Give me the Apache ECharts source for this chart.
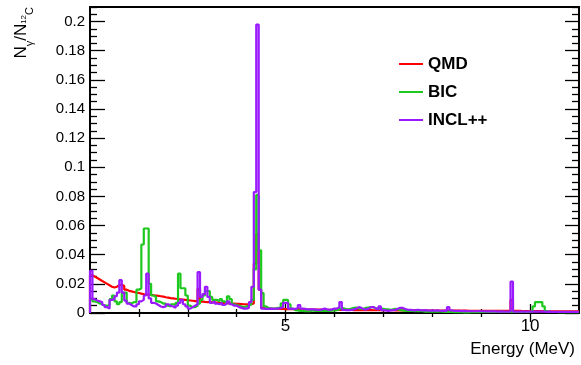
<!DOCTYPE html>
<html><head><meta charset="utf-8">
<script src="https://cdn.jsdelivr.net/npm/echarts@6/dist/echarts.min.js"></script>
<style>html,body{margin:0;padding:0;background:#fff}#c{width:581px;height:365px}</style>
</head><body><div id="c"></div>
<script>
// Histogram binning (energy, MeV)
const binStart = 1.0;
const binWidth = 0.05;
const seriesNames = ['QMD', 'BIC', 'INCL++'];

const qmd = [
0.026,0.025,0.024,0.023,0.022,0.021,0.020,0.019,0.018,0.0175,
0.018,0.019,0.0195,0.0185,0.016,0.0152,0.0148,0.0144,0.014,0.0137,
0.0133,0.013,0.0128,0.0126,0.0124,0.0122,0.012,0.0118,0.0115,0.0112,
0.0108,0.0105,0.0102,0.01,0.0098,0.0096,0.0094,0.0092,0.009,0.0088,
0.0086,0.0084,0.0082,0.008,0.0165,0.0078,0.0076,0.0075,0.0074,0.0073,
0.0072,0.0071,0.007,0.0069,0.0068,0.0067,0.0066,0.0065,0.0064,0.0063,
0.0062,0.0061,0.006,0.0059,0.0058,0.006,0.0065,0.034,0.054,0.016,
0.0035,0.0031,0.003,0.003,0.0029,0.0029,0.0028,0.0028,0.0028,0.0027,
0.0027,0.0027,0.0026,0.0026,0.0026,0.0025,0.0025,0.0025,0.0024,0.0024,
0.0024,0.0024,0.0023,0.0023,0.0023,0.0023,0.0022,0.0022,0.0022,0.0022,
0.0022,0.0022,0.0021,0.0021,0.0021,0.0021,0.0021,0.002,0.002,0.002,
0.002,0.002,0.002,0.002,0.002,0.0019,0.0019,0.0019,0.0019,0.0019,
0.0019,0.0019,0.0019,0.0019,0.0018,0.0018,0.0018,0.0018,0.0018,0.0018,
0.0018,0.0018,0.0018,0.0018,0.0017,0.0017,0.0017,0.0017,0.0017,0.0017,
0.0017,0.0017,0.0017,0.0017,0.0016,0.0016,0.0016,0.0016,0.0016,0.0016,
0.0016,0.0016,0.0016,0.0016,0.0015,0.0015,0.0015,0.0015,0.0015,0.0015,
0.0015,0.0015,0.0015,0.0015,0.0014,0.0014,0.0014,0.0014,0.0014,0.0014,
0.0014,0.0014,0.009,0.0014,0.0014,0.0014,0.0013,0.0013,0.0013,0.0013,
0.0013,0.0013,0.0013,0.0013,0.0013,0.0013,0.0012,0.0012,0.0012,0.0012,
0.0012,0.0012,0.0012,0.0012,0.0012,0.0012,0.0012,0.0012,0.0012,0.0012
];

const bic = [
0.0095,0.008,0.0075,0.0065,0.006,0.005,0.005,0.0055,0.0095,0.012,
0.008,0.006,0.0075,0.014,0.014,0.007,0.0065,0.0075,0.0075,0.016,
0.017,0.047,0.058,0.058,0.02,0.012,0.011,0.008,0.0075,0.0065,
0.0065,0.005,0.0045,0.006,0.0055,0.007,0.027,0.017,0.017,0.012,
0.005,0.004,0.004,0.005,0.0065,0.009,0.012,0.015,0.015,0.011,
0.009,0.009,0.008,0.0095,0.008,0.007,0.0115,0.0095,0.006,0.0055,
0.005,0.0045,0.004,0.0045,0.005,0.006,0.009,0.03,0.081,0.043,
0.0137,0.0045,0.0035,0.003,0.003,0.003,0.0035,0.0035,0.0066,0.009,
0.009,0.006,0.003,0.002,0.0018,0.0015,0.0015,0.0012,0.0012,0.0012,
0.0018,0.0015,0.0015,0.0014,0.0015,0.0014,0.0016,0.0015,0.0016,0.0018,
0.002,0.0025,0.0035,0.003,0.0025,0.0025,0.003,0.0035,0.0038,0.003,
0.0028,0.003,0.0035,0.0038,0.004,0.004,0.0032,0.003,0.003,0.0028,
0.0025,0.0025,0.0022,0.0025,0.0028,0.0025,0.002,0.0018,0.0015,0.0015,
0.0015,0.0014,0.0012,0.0012,0.0013,0.0012,0.001,0.001,0.0011,0.001,
0.001,0.001,0.0009,0.0009,0.0008,0.0009,0.0008,0.0007,0.0006,0.0006,
0.0005,0.0005,0.0004,0.0004,0.0004,0.0005,0.0005,0.0006,0.0006,0.0007,
0.0007,0.0007,0.0007,0.0008,0.0008,0.0007,0.0007,0.0008,0.0008,0.0007,
0.0007,0.0007,0.0008,0.0007,0.0007,0.0007,0.0008,0.0007,0.0007,0.0008,
0.0009,0.0045,0.0075,0.0075,0.0075,0.0045,0.0012,0.0008,0.0007,0.0007,
0.0007,0.0006,0.0006,0.0006,0.0006,0.0005,0.0005,0.0005,0.0005,0.0005
];

const incl = [
0.029,0.0095,0.0085,0.008,0.0075,0.0055,0.004,0.003,0.009,0.0095,
0.0115,0.014,0.0225,0.014,0.0085,0.0065,0.0055,0.0045,0.0045,0.006,
0.008,0.009,0.012,0.027,0.01,0.007,0.0065,0.0055,0.0045,0.004,
0.0045,0.006,0.005,0.0045,0.0035,0.005,0.007,0.009,0.006,0.0045,
0.003,0.004,0.005,0.006,0.028,0.011,0.013,0.018,0.011,0.007,
0.008,0.0065,0.006,0.007,0.0055,0.0065,0.008,0.006,0.005,0.005,
0.004,0.0035,0.003,0.003,0.0035,0.0075,0.018,0.083,0.198,0.016,
0.003,0.0028,0.0028,0.003,0.0028,0.003,0.003,0.0035,0.004,0.007,
0.007,0.003,0.0028,0.0028,0.0035,0.0055,0.003,0.0028,0.0025,0.0025,
0.0025,0.0025,0.0022,0.0022,0.0025,0.003,0.0025,0.0022,0.0025,0.003,
0.003,0.004,0.0075,0.0022,0.002,0.002,0.0022,0.0025,0.003,0.004,
0.0035,0.0025,0.0025,0.003,0.004,0.004,0.003,0.0025,0.0045,0.002,
0.0018,0.0015,0.0018,0.002,0.0022,0.003,0.0035,0.0035,0.0028,0.0022,
0.0022,0.002,0.0018,0.0022,0.002,0.0018,0.002,0.0018,0.0016,0.0018,
0.0016,0.0018,0.0016,0.0015,0.0016,0.0015,0.004,0.0018,0.0015,0.0014,
0.0014,0.0013,0.0014,0.0013,0.0012,0.0013,0.0012,0.0012,0.0013,0.0012,
0.0012,0.0011,0.0012,0.0011,0.0012,0.0011,0.001,0.0011,0.001,0.001,
0.001,0.001,0.0215,0.001,0.001,0.001,0.001,0.0009,0.001,0.0009,
0.0009,0.0009,0.0009,0.0009,0.0009,0.0009,0.0008,0.0009,0.0008,0.0008,
0.0008,0.0008,0.0008,0.0008,0.0008,0.0008,0.0008,0.0008,0.0008,0.0008
];

const xTickLabels = [5, 10];
const xMinorTicks = [2, 3, 4, 6, 7, 8, 9];
const yTickLabels = [0, 0.02, 0.04, 0.06, 0.08, 0.1, 0.12, 0.14, 0.16, 0.18, 0.2];
const xRange = [1, 11];
const yRange = [0, 0.21];

const yMinorTicks = [];
yTickLabels.forEach(v => { [0.005, 0.01, 0.015].forEach(d => yMinorTicks.push(+(v + d).toFixed(3))); });

function hist(vals) {
  const d = [[binStart, 0]];
  vals.forEach((v, i) => d.push([+(binStart + i * binWidth).toFixed(4), v]));
  d.push([+(binStart + vals.length * binWidth).toFixed(4), vals[vals.length - 1]]);
  return d;
}

const FONT = 'Liberation Sans, Arial, sans-serif';
const tickLine = { color: '#000', width: 1.3 };

function xAx(pos, ticks, len, labels) {
  return {
    type: 'value', min: xRange[0], max: xRange[1], position: pos,
    axisLine: { show: false }, splitLine: { show: false },
    axisTick: { show: true, inside: true, length: len, customValues: ticks, lineStyle: tickLine },
    axisLabel: labels ? { show: true, customValues: xTickLabels, color: '#000', fontSize: 17, fontFamily: FONT, margin: 5 } : { show: false }
  };
}
function yAx(pos, ticks, len, labels) {
  return {
    type: 'value', min: yRange[0], max: yRange[1], position: pos,
    axisLine: { show: false }, splitLine: { show: false },
    axisTick: { show: true, inside: true, length: len, customValues: ticks, lineStyle: tickLine },
    axisLabel: labels ? { show: true, customValues: yTickLabels, color: '#000', fontSize: 15, fontFamily: FONT, margin: 5,
      formatter: v => String(+(+v).toFixed(3)) } : { show: false }
  };
}

const colors = ['#ff0000', '#1ec81e', '#9a1aff'];
const dataSets = [qmd, bic, incl];

const chart = echarts.init(document.getElementById('c'), null, { renderer: 'canvas' });
chart.setOption({
  animation: false,
  backgroundColor: '#fff',
  grid: { left: 90, right: 2, top: 7, bottom: 52, show: true, borderColor: '#000', borderWidth: 2, backgroundColor: 'transparent' },
  xAxis: [
    xAx('bottom', xTickLabels, 9, true),
    xAx('bottom', xMinorTicks, 4, false),
    xAx('top', xTickLabels, 9, false),
    xAx('top', xMinorTicks, 4, false)
  ],
  yAxis: [
    yAx('left', yTickLabels, 15, true),
    yAx('left', yMinorTicks, 7, false),
    yAx('right', yTickLabels, 14, false),
    yAx('right', yMinorTicks, 7, false)
  ],
  legend: {
    orient: 'vertical', left: 398, top: 55, padding: 0, itemGap: 10,
    itemWidth: 24, itemHeight: 18,
    itemStyle: { opacity: 0 },
    lineStyle: { width: 2 },
    data: seriesNames,
    textStyle: { fontFamily: FONT, fontSize: 17, fontWeight: 'bold', color: '#000', lineHeight: 18 }
  },
  series: seriesNames.map((n, k) => ({
    name: n, type: 'line', step: 'end', showSymbol: false, symbol: 'none',
    xAxisIndex: 0, yAxisIndex: 0, z: 2 + k,
    color: colors[k],
    lineStyle: { color: colors[k], width: 2.2 },
    data: hist(dataSets[k])
  })),
  graphic: [
    { type: 'text', right: 6, top: 341, style: { text: 'Energy (MeV)', font: '17px ' + FONT, fill: '#000' } },
    { type: 'text', x: 24, y: 7, rotation: Math.PI / 2,
      style: {
        text: '{n|N}{s|γ}{n|/N}{p|12}{s|C}',
        align: 'right', verticalAlign: 'middle', fill: '#000',
        rich: {
          n: { fontSize: 17, fontFamily: FONT, lineHeight: 24, verticalAlign: 'top', height: 18 },
          s: { fontSize: 11, fontFamily: FONT, verticalAlign: 'bottom', lineHeight: 12, height: 12 },
          p: { fontSize: 8, fontFamily: FONT, verticalAlign: 'middle', lineHeight: 10, height: 10 }
        }
      } }
  ]
});
</script></body></html>
